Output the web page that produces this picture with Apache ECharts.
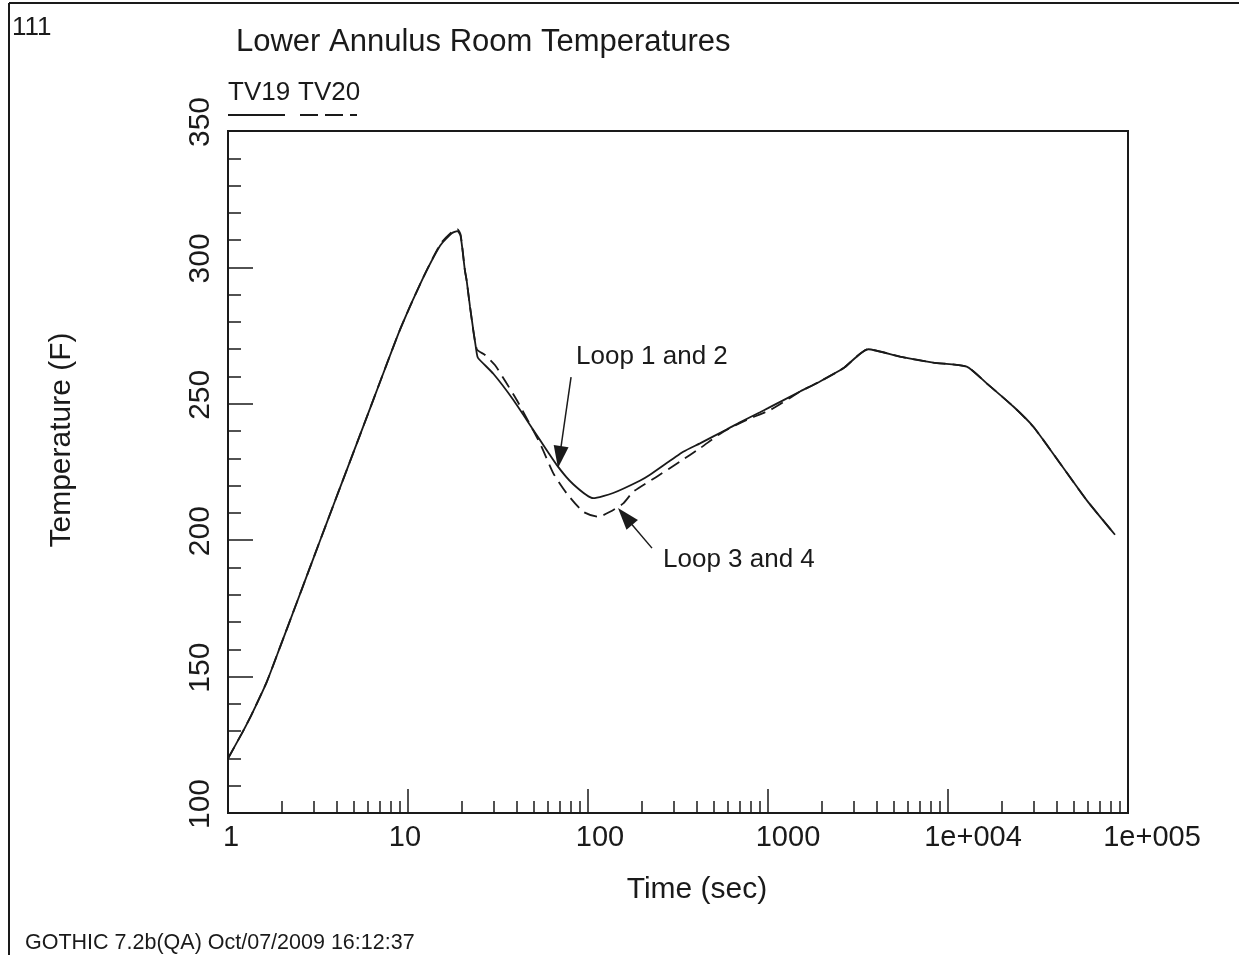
<!DOCTYPE html>
<html>
<head>
<meta charset="utf-8">
<title>Lower Annulus Room Temperatures</title>
<script src="https://cdn.jsdelivr.net/npm/echarts@6/dist/echarts.min.js"></script>
<style>
  html, body { margin: 0; padding: 0; background: #fff; }
  #chart { width: 1239px; height: 955px; }
</style>
</head>
<body>
<div id="chart"></div>
<script>
// TV19 (Loop 1 and 2) - solid
const timeTV19 = [1, 1.19, 1.35, 1.64, 1.95, 2.36, 2.79, 3.24, 3.85, 4.37, 5.65, 6.99, 9.03, 11.7, 15.1, 17.5, 18.8, 19.6, 20.7, 21.2, 22.1, 24.1, 24.5, 29.8, 38.5, 49.7, 67, 82.8, 107, 138, 194, 221, 338, 419, 590, 699, 903, 1000, 1507, 1945, 2620, 3606, 5412, 8283, 12700, 16400, 23070, 29800, 41900, 58900, 84700]
const tempTV19 = [120, 129, 136, 148, 161, 175.5, 188.3, 199.7, 212.8, 222.4, 241.8, 258, 277.2, 294, 308, 312.5, 313.3, 311.5, 299, 295, 285.6, 268.5, 266.8, 261, 251.4, 240.4, 227.6, 220.5, 215.4, 217.3, 221.8, 224, 232.4, 235.5, 240.6, 243.2, 246.9, 248.4, 254.5, 258.2, 263, 270, 267.3, 265.1, 263.6, 257.5, 249, 241.6, 228.2, 214.7, 202]

// TV20 (Loop 3 and 4) - dashed
const timeTV20 = [1, 1.19, 1.35, 1.64, 1.95, 2.36, 2.79, 3.24, 3.85, 4.37, 5.65, 6.99, 9.03, 11.7, 15.1, 17.5, 18.8, 19.6, 20.7, 21.2, 22.1, 24.1, 26.8, 30.4, 35.3, 40.2, 54.1, 64.2, 76.1, 94.2, 114, 132.5, 157, 178.5, 241, 324, 419, 565, 762, 1026, 1270, 1507, 1945, 2620, 3606, 5412, 8283, 12700, 16400, 23070, 29800, 41900, 58900, 84700]
const tempTV20 = [120, 129, 136, 148, 161, 175.5, 188.3, 199.7, 212.8, 222.4, 241.8, 258, 277.2, 294, 308.5, 313, 314, 312, 299, 295, 285.6, 270, 267.9, 264.2, 257.5, 251.4, 235.5, 224.5, 217.2, 210.4, 208.6, 210.4, 213.5, 217.8, 223.3, 228.8, 233.7, 239.8, 244.1, 247.7, 251.4, 254.5, 258.2, 263, 270, 267.3, 265.1, 263.6, 257.5, 249, 241.6, 228.2, 214.7, 202]

const xMajorLabels = { 1: '1', 10: '10', 100: '100', 1000: '1000', 10000: '1e+004', 100000: '1e+005' }
const xMinorTicks = [2, 3, 4, 5, 6, 7, 8, 9, 20, 30, 40, 50, 60, 70, 80, 90, 200, 300, 400, 500, 600, 700, 800, 900,
  2000, 3000, 4000, 5000, 6000, 7000, 8000, 9000, 20000, 30000, 40000, 50000, 60000, 70000, 80000, 90000]

const font = "'Liberation Sans', Arial, sans-serif"
const ink = '#1a1a1a'

// the plotting program draws some decade labels a bit right of their tick
const labelShift = { 1: 3, 10: -3, 100: 12, 1000: 20, 10000: 25, 100000: 24 }
const labelRich = {}
Object.keys(labelShift).forEach((k) => {
  const s = labelShift[k]
  labelRich['d' + k] = {
    fontFamily: font,
    fontSize: 29,
    color: ink,
    padding: s >= 0 ? [0, 0, 0, 2 * s] : [0, -2 * s, 0, 0]
  }
})

const chart = echarts.init(document.getElementById('chart'))

const zip = (xs, ys) => xs.map((x, i) => [x, ys[i]])

chart.setOption({
  backgroundColor: '#fff',
  animation: false,
  textStyle: { fontFamily: font, color: ink },
  title: {
    text: 'Lower Annulus Room Temperatures',
    left: 231,
    top: 22,
    textStyle: { fontFamily: font, fontSize: 31, fontWeight: 'normal', color: ink }
  },
  grid: {
    left: 228,
    right: 111,
    top: 131,
    bottom: 142,
    show: true,
    borderColor: ink,
    borderWidth: 2
  },
  xAxis: [{
    type: 'log',
    logBase: 10,
    min: 1,
    max: 100000,
    splitLine: { show: false },
    axisLine: { lineStyle: { color: ink, width: 2 } },
    axisTick: { inside: true, length: 24, lineStyle: { color: ink, width: 1.5 } },
    axisLabel: {
      fontFamily: font,
      fontSize: 29,
      color: ink,
      margin: 10,
      rich: labelRich,
      formatter: (v) => {
        const k = Math.round(v)
        return xMajorLabels[k] ? '{d' + k + '|' + xMajorLabels[k] + '}' : ''
      }
    }
  }, {
    // minor decade ticks, placed in log10 space
    type: 'value',
    min: 0,
    max: 5,
    position: 'bottom',
    splitLine: { show: false },
    axisLine: { show: false },
    axisLabel: { show: false },
    axisTick: {
      inside: true,
      length: 12,
      customValues: xMinorTicks.map((t) => Math.log10(t)),
      lineStyle: { color: ink, width: 1.5 }
    }
  }],
  yAxis: {
    type: 'value',
    min: 100,
    max: 350,
    interval: 50,
    splitLine: { show: false },
    axisLine: { lineStyle: { color: ink, width: 2 } },
    axisTick: { inside: true, length: 25, lineStyle: { color: ink, width: 1.5 } },
    minorTick: { show: true, splitNumber: 5, length: 13, lineStyle: { color: ink, width: 1.5 } },
    axisLabel: {
      fontFamily: font,
      fontSize: 30,
      color: ink,
      rotate: 90,
      margin: 12,
      padding: [0, 0, 0, 18]
    }
  },
  series: [{
    name: 'TV19',
    type: 'line',
    showSymbol: false,
    silent: true,
    smooth: 0.2,
    lineStyle: { color: ink, width: 1.8, type: 'solid' },
    data: zip(timeTV19, tempTV19),
    markLine: {
      silent: true,
      symbol: ['none', 'triangle'],
      symbolSize: [15, 22],
      label: { show: false },
      lineStyle: { color: ink, width: 1.5, type: 'solid' },
      data: [
        [{ coord: [80.5, 259.8] }, { coord: [69.5, 230.5] }],
        [{ coord: [226.8, 197.1] }, { coord: [160.7, 208.7] }]
      ]
    }
  }, {
    name: 'TV20',
    type: 'line',
    showSymbol: false,
    silent: true,
    smooth: 0.2,
    lineStyle: { color: ink, width: 1.8, type: [13, 7] },
    data: zip(timeTV20, tempTV20)
  }],
  graphic: [
    // page frame
    { type: 'line', shape: { x1: 9, y1: 3, x2: 1239, y2: 3 }, style: { stroke: ink, lineWidth: 2 } },
    { type: 'line', shape: { x1: 9, y1: 3, x2: 9, y2: 955 }, style: { stroke: ink, lineWidth: 2 } },
    { type: 'text', x: 12, y: 28, style: { text: '111', font: '26px ' + font, fill: ink, textVerticalAlign: 'middle' } },
    // legend
    { type: 'text', x: 228, y: 93, style: { text: 'TV19', font: '26px ' + font, fill: ink, textVerticalAlign: 'middle' } },
    { type: 'text', x: 298, y: 93, style: { text: 'TV20', font: '26px ' + font, fill: ink, textVerticalAlign: 'middle' } },
    { type: 'line', shape: { x1: 228, y1: 115, x2: 285, y2: 115 }, style: { stroke: ink, lineWidth: 1.8 } },
    { type: 'line', shape: { x1: 300, y1: 115, x2: 357, y2: 115 }, style: { stroke: ink, lineWidth: 1.8, lineDash: [18, 7] } },
    // axis names
    { type: 'text', x: 62, y: 440, rotation: Math.PI / 2, style: { text: 'Temperature (F)', font: '30px ' + font, fill: ink, textAlign: 'center', textVerticalAlign: 'middle' } },
    { type: 'text', x: 697, y: 890, style: { text: 'Time (sec)', font: '30px ' + font, fill: ink, textAlign: 'center', textVerticalAlign: 'middle' } },
    // annotations
    { type: 'text', x: 576, y: 357, style: { text: 'Loop 1 and 2', font: '26px ' + font, fill: ink, textVerticalAlign: 'middle' } },
    { type: 'text', x: 663, y: 560, style: { text: 'Loop 3 and 4', font: '26px ' + font, fill: ink, textVerticalAlign: 'middle' } },
    // footer
    { type: 'text', x: 25, y: 943, style: { text: 'GOTHIC 7.2b(QA) Oct/07/2009 16:12:37', font: '21.5px ' + font, fill: ink, textVerticalAlign: 'middle' } }
  ]
})
</script>
</body>
</html>
